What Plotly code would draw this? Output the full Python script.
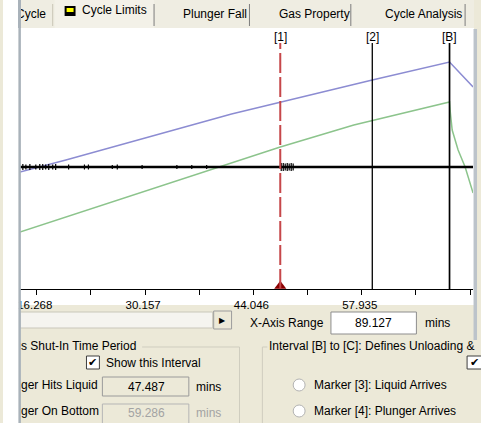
import plotly.graph_objects as go

W, H = 481, 423
BEIGE = "#ece9d8"
FONT = "Liberation Sans, Arial, sans-serif"

# ---- chart data (minutes / trace units) ----
upper_t = [14.102, 20.0, 41.24, 47.487, 59.286, 69.19, 72.21]
upper_v = [-5, 7, 53, 65, 87, 105, 80]

lower_t = [14.102, 19.58, 39.59, 47.487, 56.92, 69.19, 69.30, 69.53, 70.29, 71.19, 72.21]
lower_v = [-65, -51, 0, 20, 42, 65, 54, 37, 17, 0, -26]

base_t = [14.102, 72.206]
base_v = [0, 0]

spike_t = [14.48, 14.87, 15.38, 16.14, 16.65, 17.03, 17.41, 17.80, 18.31, 18.69,
           20.35, 22.38, 22.89, 25.95, 26.59, 29.77, 34.23, 36.14, 38.05,
           47.61, 47.87, 48.12, 48.38, 48.63, 48.89, 49.14]
spike_h = [3, 2.5, 3, 2.5, 3, 3, 2.5, 3, 2.5, 3,
           2.5, 2.5, 2.5, 2, 2.5, 2, 2, 2, 2,
           4, 4, 3.5, 4, 3.5, 4, 3.5]

marker_names = ["[1]", "[2]", "[B]"]
marker_times = [47.487, 59.286, 69.19]

tick_start = 16.268
tick_step = 13.889
x_range = [14.102, 72.206]
y_range = [-122, 124]
x_axis_span = "89.127"

tab_labels = ["Cycle", "Cycle Limits", "Plunger Fall", "Gas Property", "Cycle Analysis"]


def X(p):
    return p / W


def Y(p):
    return 1 - p / H


shapes = []
annotations = []


def rect(x0, y0, x1, y1, fill=None, line=None, lw=1, layer="below"):
    shapes.append(dict(type="rect", xref="paper", yref="paper",
                       x0=X(x0), x1=X(x1), y0=Y(y1), y1=Y(y0),
                       fillcolor=fill or "rgba(0,0,0,0)",
                       line=dict(color=line or "rgba(0,0,0,0)", width=lw if line else 0),
                       layer=layer))


def seg(x0, y0, x1, y1, color, lw=1, layer="below"):
    shapes.append(dict(type="line", xref="paper", yref="paper",
                       x0=X(x0), x1=X(x1), y0=Y(y0), y1=Y(y1),
                       line=dict(color=color, width=lw), layer=layer))


def text(s, x, y, anchor="left", size=12, color="#000000", family=FONT):
    annotations.append(dict(text=s, x=X(x), y=Y(y), xref="paper", yref="paper",
                            xanchor=anchor, yanchor="middle", showarrow=False,
                            borderpad=0, font=dict(family=family, size=size, color=color)))


def cover(x0, y0, x1, y1, color):
    # opaque box in the annotation layer, used to trim text at the panel edge
    annotations.append(dict(text=" ", x=X(x0), y=Y(y0), xref="paper", yref="paper",
                            xanchor="left", yanchor="top", showarrow=False,
                            width=x1 - x0, height=y1 - y0, borderpad=0, borderwidth=0,
                            bgcolor=color, font=dict(size=1)))


# ---- chart panel background ----
rect(17, 29, 474, 305, fill="#ffffff")

# ---- tab strip ----
rect(16, 0, 474, 29, fill="#efede2")
rect(52, 0, 152, 29, fill="#f3f1e8")
seg(50, 4, 50, 26, "#c9c6b6")
for xs in (152, 248, 350, 465):
    seg(xs, 4, xs, 26, "#7d7d7d")
seg(16, 28.5, 474, 28.5, "#ffffff")
rect(62, 6, 73, 16, fill="#000000")
rect(64, 8, 71, 12, fill="#ffff00")
text(tab_labels[0], 12, 14)
text(tab_labels[1], 78, 10)
text(tab_labels[2], 180, 14)
text(tab_labels[3], 277, 14)
text(tab_labels[4], 383, 14)

# ---- controls under the chart ----
rect(17, 312, 211, 328, fill="#f5f4ef", line="#c9c7ba")
rect(212, 311, 230, 329, fill=BEIGE, line="#9c9c9c")
text("\u25B6", 221, 320, anchor="center", size=8, family="DejaVu Sans")
text("X-Axis Range", 248, 323)
rect(330, 312, 416, 334, fill="#ffffff", line="#8d8d8d")
text(x_axis_span, 373, 323, anchor="center")
text("mins", 424, 323)

# left group box
seg(140, 347, 238, 347, "#cfcdbf")
seg(238, 347, 238, 423, "#cfcdbf")
text("s Shut-In Time Period", 17, 346)
rect(84, 356, 97, 369, fill="#ffffff", line="#3f3f3f")
text("\u2714", 90.5, 362.5, anchor="center", size=11, family="DejaVu Sans")
text("Show this Interval", 103, 363)
text("ger Hits Liquid", 17, 385)
rect(100, 377, 187, 396, fill=BEIGE, line="#9a9a9a")
text(f"{marker_times[0]:.3f}", 144, 386.5, anchor="center")
text("mins", 193, 387)
text("ger On Bottom", 17, 411)
rect(100, 404, 187, 426, fill=BEIGE, line="#b5b5b5")
text(f"{marker_times[1]:.3f}", 144, 413, anchor="center", color="#a3a3a3")
text("mins", 193, 413, color="#a3a3a3")

# right group box
seg(261, 347, 261, 423, "#cfcdbf")
seg(261, 347, 266, 347, "#cfcdbf")
text("Interval [B] to [C]: Defines Unloading &", 267, 346)
rect(467, 356, 482, 369, fill="#ffffff", line="#3f3f3f")
text("\u2714", 474, 362.5, anchor="center", size=11, family="DejaVu Sans")
for yc, label in ((385, "Marker [3]: Liquid Arrives"), (411, "Marker [4]: Plunger Arrives")):
    shapes.append(dict(type="circle", xref="paper", yref="paper",
                       x0=X(292), x1=X(304), y0=Y(yc + 6), y1=Y(yc - 6),
                       fillcolor="#ffffff", line=dict(color="#b3b3b3", width=1),
                       layer="below"))
    text(label, 312, yc)

# ---- panel edges drawn over the axis labels ----
rect(0, 0, 16, 423, fill="#ffffff", layer="above")
rect(15.5, 0, 18, 423, fill="#a9b2ba", layer="above")
rect(474, 29, 481, 340, fill=BEIGE, layer="above")
rect(473.5, 29, 477, 340, fill="#bcc3ca", layer="above")
cover(0, 0, 16, 28, "#ffffff")
cover(15.5, 0, 18, 28, "#a9b2ba")

# ---- marker lines ----
for name, t in zip(marker_names, marker_times):
    if name == "[1]":
        style = dict(color="#c6474a", width=2, dash="20px,4px")
    elif name == "[B]":
        style = dict(color="#000000", width=1.7)
    else:
        style = dict(color="#000000", width=1.3)
    shapes.append(dict(type="line", xref="x", yref="y domain", x0=t, x1=t, y0=0, y1=1,
                       line=style, layer="above"))
    annotations.append(dict(text=name, x=t, y=Y(37), xref="x", yref="paper",
                            xanchor="center", yanchor="middle", showarrow=False,
                            font=dict(family=FONT, size=12, color="#000000")))

# ---- traces ----
spike_x, spike_y = [], []
for t, h in zip(spike_t, spike_h):
    spike_x += [t, t, None]
    spike_y += [-h, h, None]

fig = go.Figure()
fig.add_trace(go.Scatter(x=upper_t, y=upper_v, mode="lines",
                         line=dict(color="#8c8cd2", width=1.5), hoverinfo="skip"))
fig.add_trace(go.Scatter(x=lower_t, y=lower_v, mode="lines",
                         line=dict(color="#8cc48c", width=1.5), hoverinfo="skip"))
fig.add_trace(go.Scatter(x=base_t, y=base_v, mode="lines",
                         line=dict(color="#000000", width=2.5), hoverinfo="skip"))
fig.add_trace(go.Scatter(x=spike_x, y=spike_y, mode="lines",
                         line=dict(color="#000000", width=1.2), hoverinfo="skip"))
fig.add_trace(go.Scatter(x=[marker_times[0]], y=[-119], mode="markers", cliponaxis=False,
                         marker=dict(symbol="triangle-up", size=10.5, color="#8b0000",
                                     line=dict(width=0)), hoverinfo="skip"))

fig.update_layout(
    width=W, height=H,
    margin=dict(l=0, r=0, t=0, b=0),
    paper_bgcolor=BEIGE,
    plot_bgcolor="#f4f4f4",
    showlegend=False,
    shapes=shapes,
    annotations=annotations,
    xaxis=dict(domain=[X(17), X(473)], range=x_range, showgrid=False, zeroline=False,
               showline=True, linecolor="#000000", linewidth=1,
               ticks="outside", ticklen=5, tickcolor="#000000", tickwidth=1,
               tick0=tick_start, dtick=tick_step, tickformat=".3f",
               ticklabelshift=-2,
               tickfont=dict(family=FONT, size=11.5, color="#000000"),
               minor=dict(ticks="outside", ticklen=5, tickcolor="#000000",
                          tick0=tick_start, dtick=tick_step / 2, showgrid=False),
               fixedrange=True),
    yaxis=dict(domain=[Y(289), Y(43)], range=y_range, visible=False, fixedrange=True),
)

fig.write_html("out.html", config={"displayModeBar": False})
